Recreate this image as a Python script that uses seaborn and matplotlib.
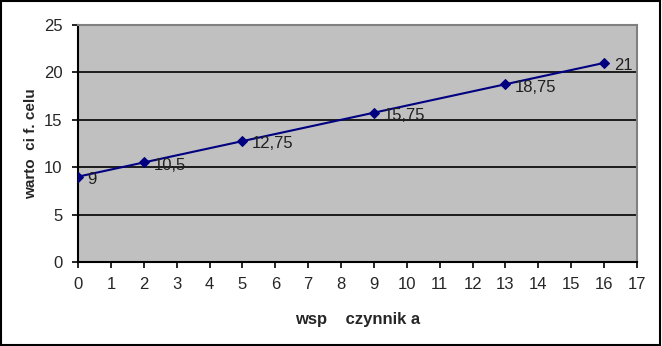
import matplotlib
matplotlib.use("Agg")
import matplotlib.pyplot as plt
import seaborn as sns
import pandas as pd

x_vals = [0, 2, 5, 9, 13, 16]
y_vals = [9, 10.5, 12.75, 15.75, 18.75, 21]
point_labels = ["9", "10,5", "12,75", "15,75", "18,75", "21"]
x_label = "wsp    czynnik a"
y_label = "warto  ci f. celu"

sns.set_theme(style="white")
plt.rcParams['font.family'] = ['Liberation Sans', 'DejaVu Sans']

df = pd.DataFrame({"x": x_vals, "y": y_vals})

fig = plt.figure(figsize=(6.62, 3.46), dpi=100)
ax = fig.add_axes([78/662, 1-262/346, (637-78)/662, (262-25)/346])
ax.set_facecolor("#C0C0C0")

for yv in [5, 10, 15, 20]:
    ax.axhline(yv, color="black", lw=1.2, zorder=1)

sns.lineplot(data=df, x="x", y="y", ax=ax, color="#000080", lw=1.5,
             marker="D", markersize=5, markeredgecolor="#000080", zorder=3)

for xv, yv, lab in zip(x_vals, y_vals, point_labels):
    ax.annotate(lab, (xv, yv), xytext=(7, -2), textcoords="offset points",
                ha="left", va="center", fontsize=12, color="#202020", zorder=4)

ax.set_xlim(0, 17)
ax.set_ylim(0, 25)
ax.set_xticks(range(0, 18))
ax.set_yticks(range(0, 26, 5))
ax.tick_params(axis="both", direction="out", length=4, width=1.2, color="black",
               labelsize=12, pad=7, bottom=True, left=True)

for side in ["left", "bottom"]:
    ax.spines[side].set_color("black")
    ax.spines[side].set_linewidth(1.5)
for side in ["top", "right"]:
    ax.spines[side].set_color("#808080")
    ax.spines[side].set_linewidth(1.5)

ax.set_xlabel(x_label, fontsize=12, fontweight="bold", labelpad=14)
ax.set_ylabel(y_label, fontsize=11, fontweight="bold", labelpad=4)

border = plt.Rectangle((0.002, 0.003), 0.995, 0.994, transform=fig.transFigure,
                       fill=False, edgecolor="black", lw=1.5)
fig.patches.append(border)

fig.savefig("out.png", dpi=100, facecolor="white")
